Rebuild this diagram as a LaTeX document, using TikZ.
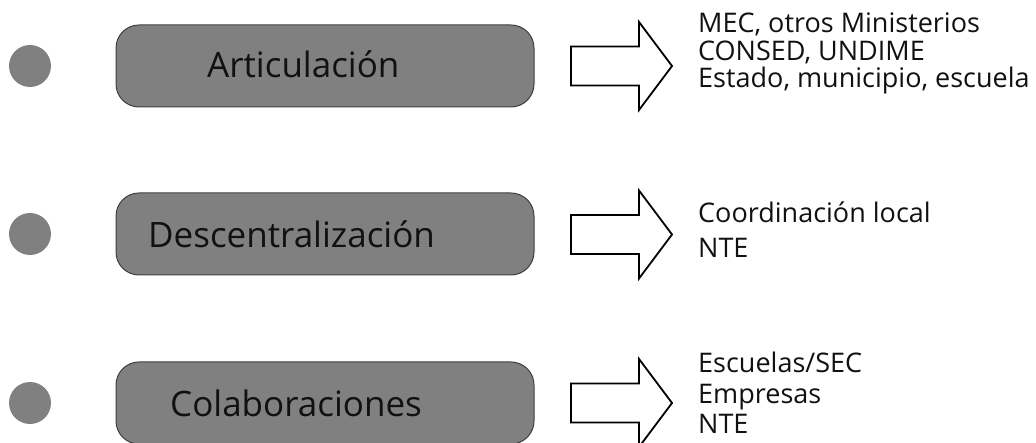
\documentclass[tikz,border=0pt]{standalone}
\usepackage{fontspec}
\setmainfont{Open Sans}
\definecolor{boxgray}{HTML}{808080}
\definecolor{boxedge}{HTML}{3F3F3F}
\definecolor{txt}{HTML}{111111}
\begin{document}
\begin{tikzpicture}[x=1pt,y=-1pt,
  dot/.style={circle,fill=boxgray,draw=none,minimum size=42pt,inner sep=0pt},
  topic/.style={rectangle,rounded corners=23pt,fill=boxgray,draw=boxedge,line width=1pt,
    minimum width=418pt,minimum height=82pt,inner sep=0pt},
  topiclabel/.style={anchor=base west,inner sep=0pt,text=txt,font=\fontsize{35}{40}\selectfont},
  item/.style={anchor=base west,inner sep=0pt,text=txt,font=\fontsize{27}{30}\selectfont},
  fatarrow/.pic={\draw[line width=1.8pt,line join=miter,fill=white]
     (0,-19.5) -- (68,-19.5) -- (68,-44) -- (101,0) -- (68,44) -- (68,19.5) -- (0,19.5) -- cycle;}
]
\useasboundingbox (0,0) rectangle (1036,443);
\clip (0,0) rectangle (1036,443);
% row 1
\node[dot] (c1) at (30,66) {};
\node[topic] (b1) at (325,66) {};
\node[topiclabel] (l1) at (207,78) {Articulación};
\pic at (571,66) {fatarrow};
\node[item] (t1a) at (698,33) {MEC, otros Ministerios};
\node[item] (t1b) at (698,60.5) {CONSED, UNDIME};
\node[item] (t1c) at (698,88) {Estado, municipio, escuela};
% row 2
\node[dot] (c2) at (30,234) {};
\node[topic] (b2) at (325,234) {};
\node[topiclabel] (l2) at (148,248) {Descentralización};
\pic at (571,234.5) {fatarrow};
\node[item] (t2a) at (698,223) {Coordinación local};
\node[item] (t2b) at (698,258) {NTE};
% row 3
\node[dot] (c3) at (30,403) {};
\node[topic] (b3) at (325,403) {};
\node[topiclabel] (l3) at (170,417) {Colaboraciones};
\pic at (571,403) {fatarrow};
\node[item] (t3a) at (698,373) {Escuelas/SEC};
\node[item] (t3b) at (698,403) {Empresas};
\node[item] (t3c) at (698,433) {NTE};
\end{tikzpicture}
\end{document}
